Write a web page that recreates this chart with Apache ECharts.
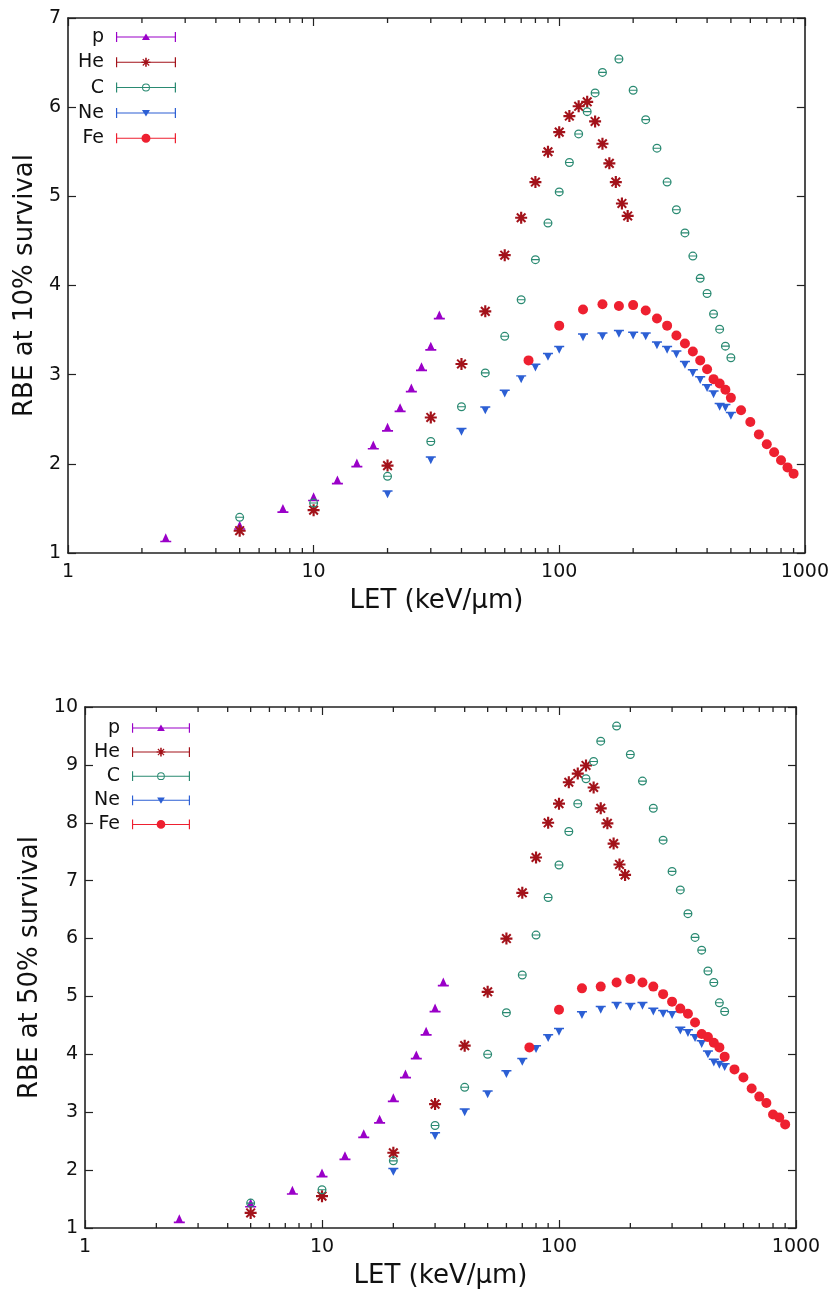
<!DOCTYPE html>
<html><head><meta charset="utf-8">
<script src="https://cdn.jsdelivr.net/npm/echarts@6/dist/echarts.min.js"></script>
<style>html,body{margin:0;padding:0;background:#fff}#c{width:832px;height:1290px}</style>
</head><body><div id="c"></div><script>
// ---- data (LET in keV/µm, RBE) ----
const pLET  = [2.5,5,7.5,10,12.5,15,17.5,20,22.5,25,27.5,30,32.5];
const heLET = [5,10,20,30,40,50,60,70,80,90,100,110,120,130,140,150,160,170,180,190];
const cLET  = [5,10,20,30,40,50,60,70,80,90,100,110,120,130,140,150,175,200,225,250,275,300,325,350,375,400,425,450,475,500];
const neLET = [20,30,40,50,60,70,80,90,100,125,150,175,200,225,250,275,300,325,350,375,400,425,450,475,500];
const feLET = [75,100,125,150,175,200,225,250,275,300,325,350,375,400,425,450,475,500,550,600,650,700,750,800,850,900];

// RBE at 10% survival
const p10  = [1.17,1.31,1.50,1.63,1.82,2.01,2.21,2.41,2.63,2.85,3.09,3.32,3.67];
const he10 = [1.25,1.48,1.98,2.52,3.12,3.71,4.34,4.76,5.16,5.50,5.72,5.90,6.01,6.06,5.84,5.59,5.37,5.16,4.92,4.78];
const c10  = [1.40,1.56,1.86,2.25,2.64,3.02,3.43,3.84,4.29,4.70,5.05,5.38,5.70,5.95,6.16,6.39,6.54,6.19,5.86,5.54,5.16,4.85,4.59,4.33,4.08,3.91,3.68,3.51,3.32,3.19];
const ne10 = [1.66,2.04,2.36,2.60,2.79,2.95,3.08,3.20,3.28,3.42,3.43,3.46,3.44,3.43,3.33,3.28,3.23,3.11,3.02,2.94,2.85,2.78,2.64,2.63,2.54];
const fe10 = [3.16,3.55,3.73,3.79,3.77,3.78,3.72,3.63,3.55,3.44,3.35,3.26,3.16,3.06,2.95,2.90,2.83,2.74,2.60,2.47,2.33,2.22,2.13,2.04,1.96,1.89];

// RBE at 50% survival
const p50  = [1.16,1.43,1.65,1.95,2.25,2.63,2.88,3.25,3.66,3.99,4.40,4.80,5.25];
const he50 = [1.26,1.55,2.30,3.14,4.15,5.08,6.00,6.79,7.40,8.00,8.33,8.70,8.85,8.99,8.61,8.25,7.99,7.64,7.28,7.10];
const c50  = [1.43,1.66,2.16,2.77,3.43,4.00,4.72,5.37,6.06,6.71,7.27,7.85,8.33,8.76,9.06,9.41,9.67,9.18,8.72,8.25,7.70,7.16,6.84,6.43,6.02,5.80,5.44,5.24,4.89,4.74];
const ne50 = [1.97,2.59,3.00,3.31,3.66,3.87,4.09,4.28,4.39,4.68,4.77,4.84,4.82,4.84,4.74,4.70,4.68,4.41,4.37,4.28,4.18,4.00,3.86,3.82,3.78];
const fe50 = [4.12,4.77,5.14,5.17,5.24,5.30,5.24,5.17,5.04,4.91,4.79,4.70,4.55,4.35,4.30,4.20,4.12,3.96,3.74,3.60,3.41,3.27,3.16,2.96,2.91,2.79];

const seriesNames = ['p','He','C','Ne','Fe'];
const minorTicks = [2,3,4,5,6,7,8,9,20,30,40,50,60,70,80,90,200,300,400,500,600,700,800,900];
const xTitle = 'LET (keV/µm)';
const yTitles = ['RBE at 10% survival','RBE at 50% survival'];

// ---- styles ----
const FONT = 'DejaVu Sans';
const colors = {p:'#9a00c8', He:'#a3121a', C:'#2a8a72', Ne:'#2c5fd4', Fe:'#ee2030'};
const symbols = {
  p:  'path://M0,8 L12,8 L12,9.6 L0,9.6 Z M2,8.6 L6,1 L10,8.6 Z',
  He: 'path://M0,4.1 L10,4.1 L10,5.9 L0,5.9 Z M4.1,0 L5.9,0 L5.9,10 L4.1,10 Z M0.8,2.0 L2.0,0.8 L9.2,8.0 L8.0,9.2 Z M8.0,0.8 L9.2,2.0 L2.0,9.2 L0.8,8.0 Z',
  C:  'path://M0,5 A5,5 0 1,1 10,5 A5,5 0 1,1 0,5 Z M1.4,5 A3.6,3.6 0 1,0 8.6,5 A3.6,3.6 0 1,0 1.4,5 Z M1.4,4.4 L8.6,4.4 L8.6,5.6 L1.4,5.6 Z',
  Ne: 'path://M0,0 L10,0 L10,1.4 L0,1.4 Z M1.5,1 L8.5,1 L5,7.5 Z',
  Fe: 'circle'
};
const sizes = {p:[11,9], He:12, C:9, Ne:[10,8], Fe:10};
const BAR = 'M0,4.5 L60,4.5 L60,5.5 L0,5.5 Z M0,0 L1.2,0 L1.2,10 L0,10 Z M58.8,0 L60,0 L60,10 L58.8,10 Z ';
const legendIcons = {
  p:  'path://' + BAR + 'M26,8 L30,1.5 L34,8 Z',
  He: 'path://' + BAR + 'M25.5,4.2 L34.5,4.2 L34.5,5.8 L25.5,5.8 Z M29.2,0.5 L30.8,0.5 L30.8,9.5 L29.2,9.5 Z M26.4,2.2 L27.2,1.4 L33.6,7.8 L32.8,8.6 Z M32.8,1.4 L33.6,2.2 L27.2,8.6 L26.4,7.8 Z',
  C:  'path://' + BAR + 'M26,5 A4,4 0 1,1 34,5 A4,4 0 1,1 26,5 Z M27,5 A3,3 0 1,0 33,5 A3,3 0 1,0 27,5 Z',
  Ne: 'path://' + BAR + 'M26,2 L34,2 L30,8.5 Z',
  Fe: 'path://' + BAR + 'M25.5,5 A4.5,4.5 0 1,1 34.5,5 A4.5,4.5 0 1,1 25.5,5 Z'
};
const AX = '#222';

const zip = (xs, ys) => xs.map((x, i) => [x, ys[i]]);
const panels = [
  {lets:[pLET,heLET,cLET,neLET,feLET], vals:[p10,he10,c10,ne10,fe10]},
  {lets:[pLET,heLET,cLET,neLET,feLET], vals:[p50,he50,c50,ne50,fe50]}
];

const grids = [
  {left:68, top:18, width:737, height:535},
  {left:85, top:707, width:711, height:521}
];
const yMax = [7, 10];
const xNameGap = [35, 35];
const yNameGap = [25, 33];

const xAxes = [], yAxes = [], series = [];
grids.forEach((g, gi) => {
  const base = {
    gridIndex: gi, type:'log', logBase:10, min:1, max:1000,
    axisLine:{show:true, onZero:false, lineStyle:{color:AX, width:1.6}},
    axisTick:{show:true, inside:true, length:8, lineStyle:{color:AX, width:1.2}},
    splitLine:{show:false}
  };
  xAxes.push(Object.assign({}, base, {
    position:'bottom', name:xTitle, nameLocation:'middle', nameGap:xNameGap[gi],
    nameTextStyle:{fontFamily:FONT, fontSize:26, color:'#111'},
    axisLabel:{fontFamily:FONT, fontSize:19, color:'#111', margin:10, formatter: v => String(v)}
  }));
  xAxes.push(Object.assign({}, base, {position:'top', axisLabel:{show:false}}));
  const ybase = {
    gridIndex: gi, type:'value', min:1, max:yMax[gi], interval:1,
    axisLine:{show:true, onZero:false, lineStyle:{color:AX, width:1.6}},
    axisTick:{show:true, inside:true, length:8, lineStyle:{color:AX, width:1.2}},
    splitLine:{show:false}
  };
  yAxes.push(Object.assign({}, ybase, {
    position:'left', name:yTitles[gi], nameLocation:'middle', nameGap:yNameGap[gi],
    nameTextStyle:{fontFamily:FONT, fontSize:26, color:'#111'},
    axisLabel:{fontFamily:FONT, fontSize:19, color:'#111', margin:7}
  }));
  yAxes.push(Object.assign({}, ybase, {position:'right', axisLabel:{show:false}}));

  seriesNames.forEach((n, si) => {
    series.push({
      name:n, type:'scatter', xAxisIndex:gi*2, yAxisIndex:gi*2,
      data: zip(panels[gi].lets[si], panels[gi].vals[si]),
      symbol: symbols[n], symbolSize: sizes[n],
      itemStyle:{color:colors[n], opacity:1},
      emphasis:{disabled:true}
    });
  });
});

const legendBase = (left, top, w, gap) => ({
  orient:'vertical', left:left, top:top, padding:0, align:'right',
  itemWidth:w, itemHeight:10, itemGap:gap, selectedMode:false,
  textStyle:{fontFamily:FONT, fontSize:19, color:'#111', lineHeight:20, padding:[0,7,0,0]},
  data: seriesNames.map(n => ({name:n, icon:legendIcons[n]}))
});

const option = {
  animation:false,
  backgroundColor:'#fff',
  grid: grids,
  xAxis: xAxes,
  yAxis: yAxes,
  legend: [
    legendBase(78, 27, 60, 5.3),
    legendBase(94, 718, 58, 4.1)
  ],
  series: series
};
const chart = echarts.init(document.getElementById('c'), null, {renderer:'canvas'});
chart.setOption(option);

// minor log ticks: positions taken from the chart's own log scale
const tickEls = [];
grids.forEach((g, gi) => {
  const finder = {xAxisIndex: gi*2, yAxisIndex: gi*2};
  minorTicks.forEach(v => {
    const b = chart.convertToPixel(finder, [v, 1]);
    const t = chart.convertToPixel(finder, [v, yMax[gi]]);
    if (!b || !t) return;
    tickEls.push({type:'line', z:100, silent:true,
      shape:{x1:b[0], y1:b[1], x2:b[0], y2:b[1]-5},
      style:{stroke:AX, lineWidth:1.3}});
    tickEls.push({type:'line', z:100, silent:true,
      shape:{x1:t[0], y1:t[1], x2:t[0], y2:t[1]+5},
      style:{stroke:AX, lineWidth:1.3}});
  });
});
chart.setOption({graphic: tickEls});
</script></body></html>
